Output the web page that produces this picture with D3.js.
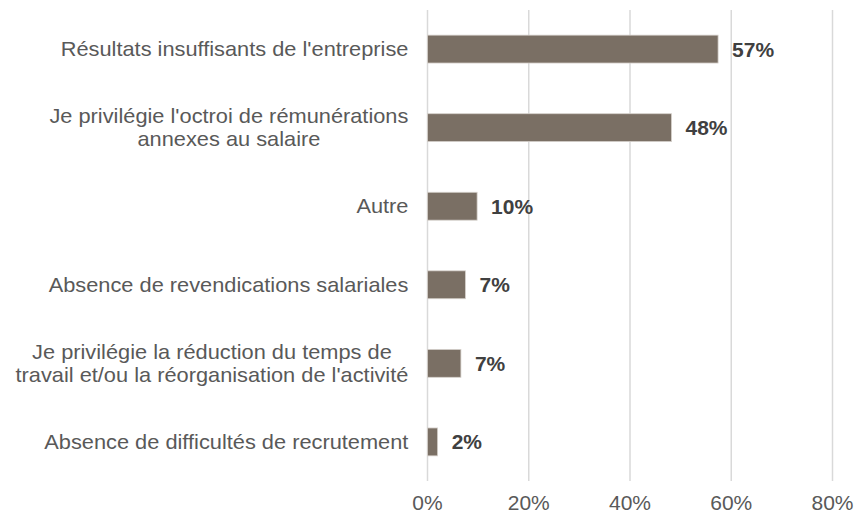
<!DOCTYPE html>
<html>
<head>
<meta charset="utf-8">
<script src="https://cdn.jsdelivr.net/npm/d3@7"></script>
<style>
  body { margin: 0; background: #fff; }
  text { font-family: "Liberation Sans", Arial, sans-serif; }
</style>
</head>
<body>
<div id="chart"></div>
<script>
// # Data
const categories = [
  ['Résultats insuffisants de l\'entreprise'],
  ['Je privilégie l\'octroi de rémunérations', 'annexes au salaire'],
  ['Autre'],
  ['Absence de revendications salariales'],
  ['Je privilégie la réduction du temps de', 'travail et/ou la réorganisation de l\'activité'],
  ['Absence de difficultés de recrutement']
]
const values = [57.4, 48.2, 9.8, 7.5, 6.6, 2.0]
const valueLabels = ['57%', '48%', '10%', '7%', '7%', '2%']
const ticks = [0, 20, 40, 60, 80]

// # Layout
const width = 856, height = 515
const margin = {top: 10, right: 23.5, bottom: 34, left: 427.5}
const textColor = '#595959'
const labelFont = 20
const labelStretch = 1.09  // # reference text is a bit wider than plain Arial

const svg = d3.select('#chart').append('svg')
  .attr('width', width)
  .attr('height', height)

const x = d3.scaleLinear()
  .domain([0, 80])
  .range([margin.left, width - margin.right])

const y = d3.scaleBand()
  .domain(d3.range(categories.length))
  .range([margin.top, height - margin.bottom])
  .paddingInner(0.645)
  .paddingOuter(0.32)

// # Gridlines
svg.append('g')
  .selectAll('line')
  .data(ticks)
  .enter().append('line')
  .attr('x1', d => x(d)).attr('x2', d => x(d))
  .attr('y1', margin.top).attr('y2', height - margin.bottom)
  .attr('stroke', '#d9d9d9')
  .attr('stroke-width', 1.5)

// # Tick labels
svg.append('g')
  .selectAll('text')
  .data(ticks)
  .enter().append('text')
  .attr('transform', d => `translate(${x(d)},510) scale(1.05,1)`)
  .attr('text-anchor', 'middle')
  .attr('font-size', labelFont)
  .attr('fill', textColor)
  .text(d => d + '%')

// # Bars
svg.append('g')
  .selectAll('rect')
  .data(values)
  .enter().append('rect')
  .attr('x', x(0))
  .attr('y', (d, i) => y(i))
  .attr('width', d => x(d) - x(0))
  .attr('height', y.bandwidth())
  .attr('fill', '#7a6f64')
  .attr('stroke', '#d6d1cc')
  .attr('stroke-width', 0.8)

// # Value labels
svg.append('g')
  .selectAll('text')
  .data(values)
  .enter().append('text')
  .attr('transform', (d, i) =>
    `translate(${x(d) + 14},${y(i) + y.bandwidth() / 2 + 7.5}) scale(1.05,1)`)
  .attr('font-size', labelFont)
  .attr('font-weight', 'bold')
  .attr('fill', '#404040')
  .text((d, i) => valueLabels[i])

// # Category labels: block right aligned at 408, lines centred inside it
const lineH = 22.7
const right = 408.5
const cat = svg.append('g')
  .selectAll('text')
  .data(categories)
  .enter().append('text')
  .attr('text-anchor', 'middle')
  .attr('font-size', labelFont)
  .attr('fill', textColor)

cat.each(function(lines, i) {
  const el = d3.select(this)
  const cy = y(i) + y.bandwidth() / 2
  const y0 = -(lines.length - 1) * lineH / 2 + 7
  lines.forEach((ln, k) => {
    el.append('tspan')
      .attr('x', 0)
      .attr('y', y0 + k * lineH)
      .text(ln)
  })
  const maxW = d3.max(el.selectAll('tspan').nodes(), t => t.getComputedTextLength())
  el.attr('transform',
    `translate(${right - maxW * labelStretch / 2},${cy}) scale(${labelStretch},1)`)
})
</script>
</body>
</html>
